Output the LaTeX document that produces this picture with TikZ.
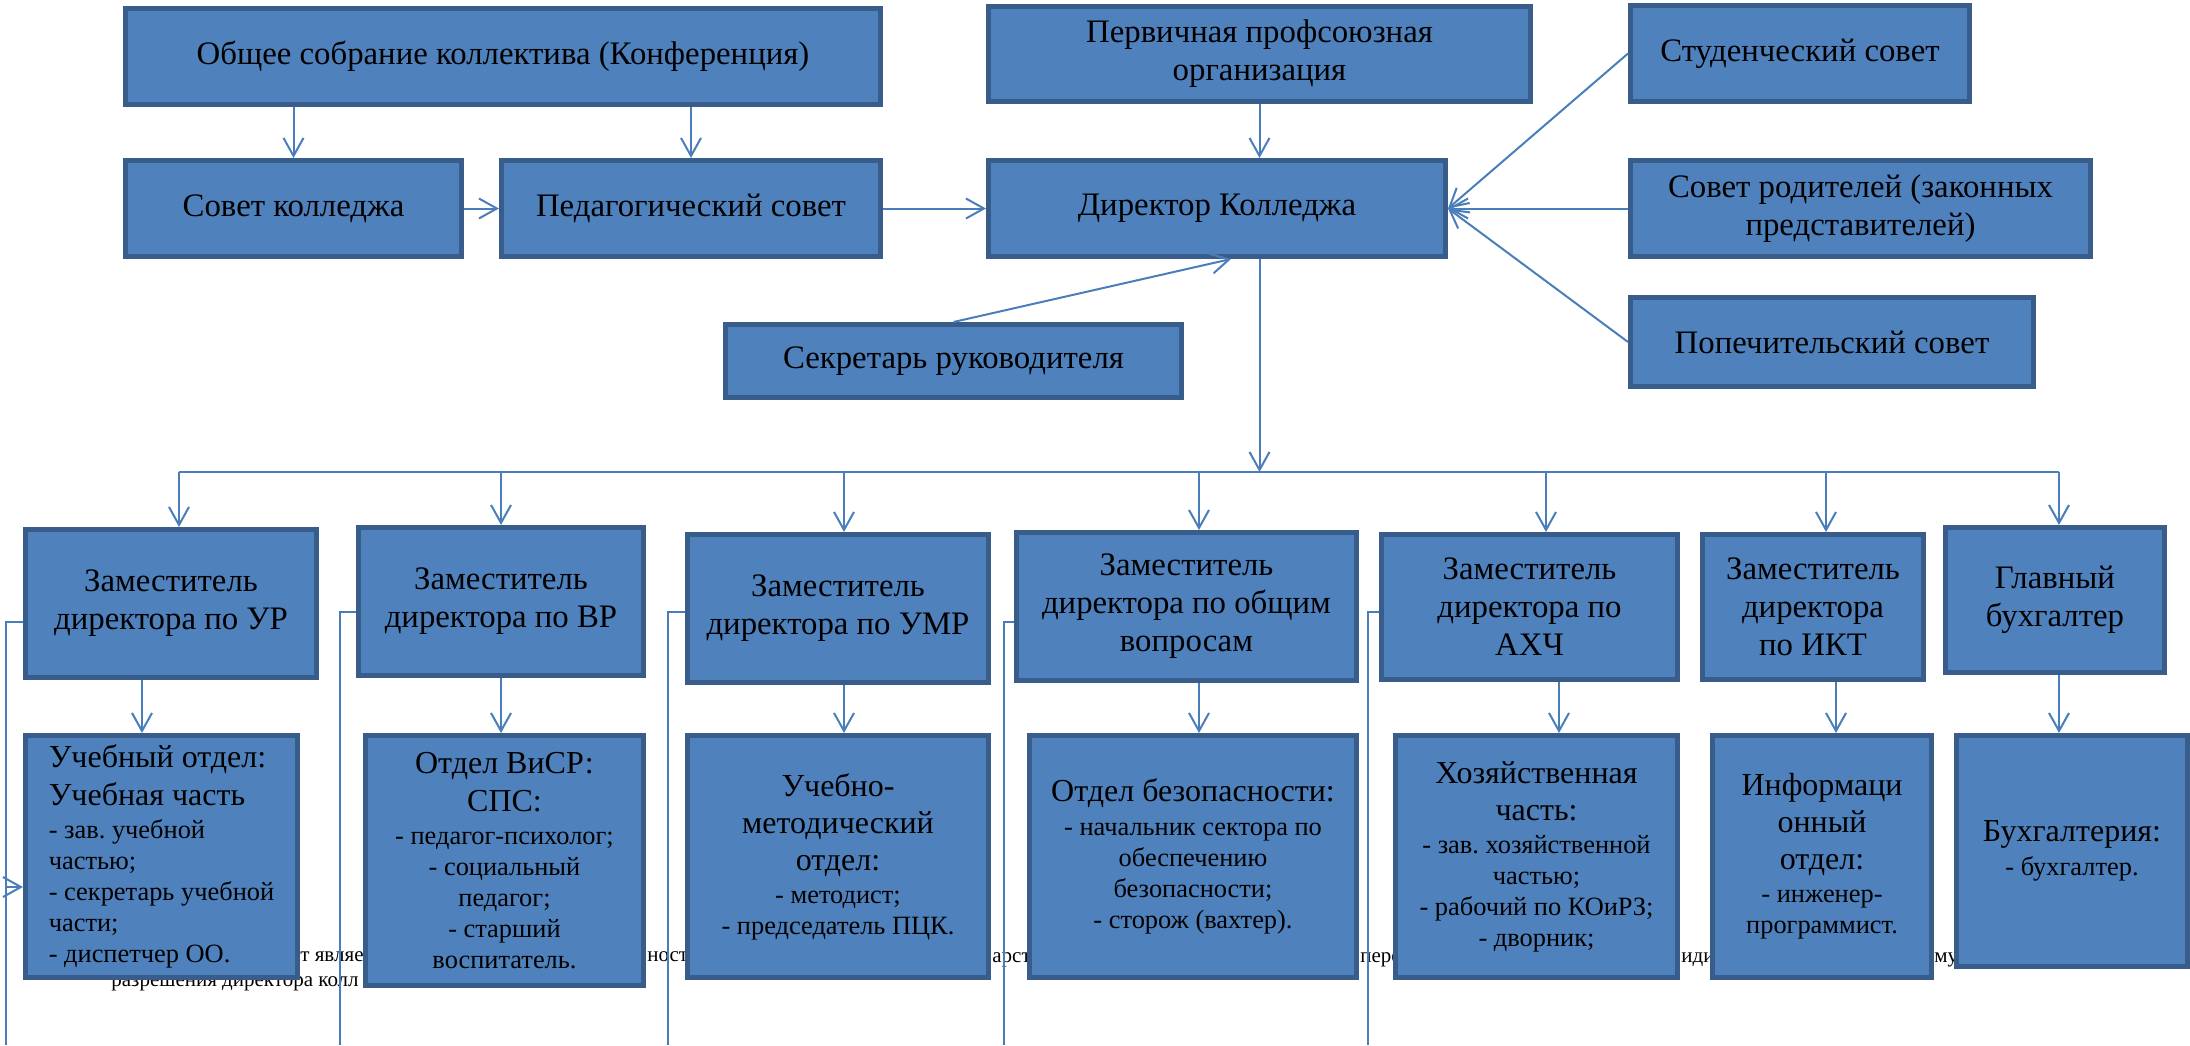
\documentclass[tikz,border=0pt]{standalone}
\usepackage{fontspec}
\setmainfont{Liberation Serif}
\usepackage{xcolor}
\usetikzlibrary{arrows.meta}
\definecolor{boxfill}{HTML}{4F81BD}
\definecolor{boxedge}{HTML}{385D8A}
\definecolor{linkcol}{HTML}{4A7EBB}
\newcommand{\hd}{\fontsize{16}{18.5}\selectfont}
\frenchspacing

\begin{document}
\begin{tikzpicture}[x=0.5pt, y=-0.5pt,
    >={Straight Barb[length=9pt,width=10pt]},
    box/.style={draw=boxedge, fill=boxfill, line width=2.5pt, inner sep=2pt, align=center,
      font=\fontsize{16.4}{19}\selectfont},
    dept/.style={box, font=\fontsize{13.2}{15.5}\selectfont},
    sz/.style 2 args={minimum width=#1*0.5pt-2.5pt, minimum height=#2*0.5pt-2.5pt},
    link/.style={draw=linkcol, line width=1pt, ->},
    wire/.style={draw=linkcol, line width=0.6pt},
    scrap/.style={font=\fontsize{10.5}{12}\selectfont, inner sep=0pt, anchor=base west}]
    \useasboundingbox (0,0) rectangle (2190,1045);

    \node[scrap] (s1) at (300,961) {т являе};
    \node[scrap] (s2) at (111,986) {разрешения директора колл};
    \node[scrap] (s3) at (647,961) {ност};
    \node[scrap] (s4) at (992,962) {арст};
    \node[scrap] (s5) at (1360,962) {пере};
    \node[scrap] (s6) at (1681,962) {иди};
    \node[scrap] (s7) at (1934,962) {му};

    \node[box, sz={760}{101}] (meeting) at (503,56.5) {Общее собрание коллектива (Конференция)};
    \node[box, sz={341}{101}] (council) at (293.5,208.5) {Совет колледжа};
    \node[box, sz={384}{101}] (pedsov) at (691,208.5) {Педагогический совет};
    \node[box, sz={547}{100}] (union) at (1259.5,54) {Первичная профсоюзная\\организация};
    \node[box, sz={462}{101}] (head) at (1217,208.5) {Директор Колледжа};
    \node[box, sz={461}{78}] (secr) at (953.5,361) {Секретарь руководителя};
    \node[box, sz={344}{101}] (students) at (1800,53.5) {Студенческий совет};
    \node[box, sz={465}{101}] (parents) at (1860.5,208.5) {Совет родителей (законных\\представителей)};
    \node[box, sz={408}{94}] (trustees) at (1832,342) {Попечительский совет};

    \node[box, sz={296}{153}] (dUR) at (171,603.5) {Заместитель\\директора по УР};
    \node[box, sz={290}{153}] (dVR) at (501,601.5) {Заместитель\\директора по ВР};
    \node[box, sz={306}{153}] (dUMR) at (838,608.5) {Заместитель\\директора по УМР};
    \node[box, sz={345}{153}] (dOV) at (1186.5,606.5) {Заместитель\\директора по общим\\вопросам};
    \node[box, sz={301}{150}] (dAHCh) at (1529.5,607) {Заместитель\\директора по\\АХЧ};
    \node[box, sz={226}{150}] (dIKT) at (1813,607) {Заместитель\\директора\\по ИКТ};
    \node[box, sz={224}{150}] (dBuh) at (2055,600) {Главный\\бухгалтер};

    \node[dept, sz={277}{247}, align=left] (oUR) at (161.5,856.5)
      {\hd Учебный отдел:\\[3.5pt]\hd Учебная часть\\[1pt]- зав. учебной\\частью;\\- секретарь учебной\\части;\\- диспетчер ОО.};
    \node[dept, sz={283}{255}] (oVR) at (504.5,860.5)
      {\hd Отдел ВиСР:\\[3.5pt]\hd СПС:\\[1pt]- педагог-психолог;\\- социальный\\педагог;\\- старший\\воспитатель.};
    \node[dept, sz={306}{247}] (oUMR) at (838,856.5)
      {\hd Учебно-\\[3pt]\hd методический\\[3pt]\hd отдел:\\[1pt]- методист;\\- председатель ПЦК.};
    \node[dept, sz={332}{247}] (oOV) at (1193,856.5)
      {\hd Отдел безопасности:\\[1.5pt]- начальник сектора по\\обеспечению\\безопасности;\\- сторож (вахтер).};
    \node[dept, sz={287}{247}] (oAHCh) at (1536.5,856.5)
      {\hd Хозяйственная\\[3pt]\hd часть:\\[1pt]- зав. хозяйственной\\частью;\\- рабочий по КОиРЗ;\\- дворник;};
    \node[dept, sz={224}{247}] (oIKT) at (1822,856.5)
      {\hd Информаци\\[3pt]\hd онный\\[3pt]\hd отдел:\\[1pt]- инженер-\\программист.};
    \node[dept, sz={236}{236}] (oBuh) at (2072,851) {\hd Бухгалтерия:\\[1.5pt]- бухгалтер.};

    \draw[link] (meeting.south -| council.north) -- (council.north);
    \draw[link] (meeting.south -| pedsov.north) -- (pedsov.north);
    \draw[link] (council) -- (pedsov);
    \draw[link] (pedsov) -- (head);
    \draw[link] (union.south) -- (union.south |- head.north);
    \draw[link] (students.west) -- (head.east);
    \draw[link] (parents.west) -- (head.east);
    \draw[link] (trustees.west) -- (head.east);
    \draw[link] (secr.north) -- ([xshift=7pt]head.south);

    \coordinate (hub) at (union.south |- 0,472);
    \coordinate (busL) at (179,472);
    \coordinate (busR) at (2059,472);
    \draw[link] (union.south |- head.south) -- (hub);
    \draw[draw=linkcol, line width=1pt] (busL) -- (busR);
    \foreach \n/\x in {dUR/179, dVR/501, dUMR/844, dOV/1199, dAHCh/1546, dIKT/1826, dBuh/2059}
      \draw[link] (\x,472) -- (\n.north -| \x,0);
    \foreach \a/\b/\x in {dUR/oUR/142, dVR/oVR/501, dUMR/oUMR/844, dOV/oOV/1199, dAHCh/oAHCh/1559, dIKT/oIKT/1836, dBuh/oBuh/2059}
      \draw[link] (\a.south -| \x,0) -- (\b.north -| \x,0);

    \foreach \n/\y/\x in {dUR/622/6, dVR/612/340, dUMR/612/668, dOV/622/1004, dAHCh/612/1368}
      \draw[wire] (\n.west |- 0,\y) -| (\x,1045);
    \draw[link] (6,887) -- (oUR.west |- 0,887);
  \end{tikzpicture}
\end{document}
